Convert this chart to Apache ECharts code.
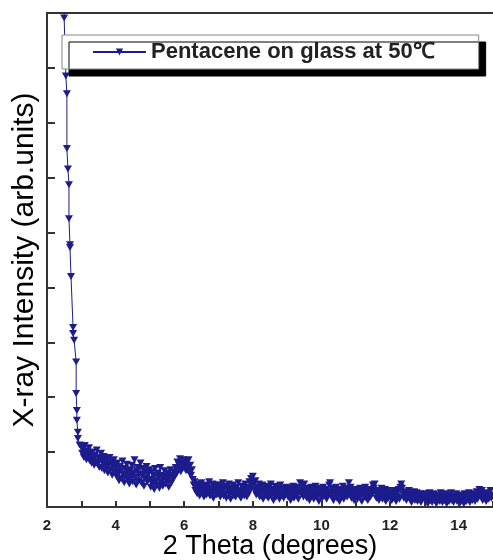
<!DOCTYPE html>
<html>
<head>
<meta charset="utf-8">
<script src="https://cdn.jsdelivr.net/npm/echarts@6/dist/echarts.min.js"></script>
<style>
  html, body { margin: 0; padding: 0; background: #fff; }
  #chart { width: 493px; height: 560px; }
</style>
</head>
<body>
<div id="chart"></div>
<script>
// 样品名称
const seriesName = 'Pentacene on glass at 50℃';

// 低角度陡峭部分 (2θ, 强度)
const steepTheta = [2.47, 2.50, 2.55, 2.58, 2.58, 2.61, 2.64, 2.64, 2.67, 2.67, 2.70, 2.76, 2.76, 2.79, 2.85, 2.85, 2.87, 2.87, 2.90, 2.90, 2.95];
const steepCounts = [9.8, 8.91, 7.85, 7.53, 6.53, 6.16, 5.87, 5.25, 4.78, 4.73, 4.20, 3.27, 3.16, 3.04, 2.64, 2.07, 1.76, 1.58, 1.36, 1.25, 1.13];

// 扫描部分: 从 3.000 开始, 步长 0.025
const scanStart = 3.0;
const scanStep = 0.025;
const scanCounts = [
  // 3.000 - 3.975
  1.10, 0.98, 1.05, 0.90, 1.12, 0.95, 0.86, 1.02, 0.92, 1.08, 0.84, 0.96, 0.80, 1.00, 0.88, 0.76, 0.94, 0.82, 1.04, 0.78,
  0.90, 0.72, 0.86, 0.98, 0.70, 0.84, 0.92, 0.66, 0.80, 0.74, 0.88, 0.62, 0.78, 0.90, 0.68, 0.82, 0.58, 0.76, 0.86, 0.64,
  // 4.000 - 4.975
  0.72, 0.56, 0.80, 0.62, 0.48, 0.74, 0.66, 0.52, 0.84, 0.60, 0.44, 0.70, 0.58, 0.78, 0.50, 0.64, 0.42, 0.68, 0.56, 0.76,
  0.46, 0.62, 0.86, 0.54, 0.40, 0.66, 0.72, 0.48, 0.60, 0.80, 0.44, 0.58, 0.70, 0.38, 0.64, 0.52, 0.74, 0.46, 0.60, 0.68,
  // 5.000 - 5.975
  0.50, 0.36, 0.64, 0.44, 0.58, 0.32, 0.70, 0.48, 0.40, 0.62, 0.54, 0.34, 0.72, 0.46, 0.58, 0.38, 0.52, 0.66, 0.42, 0.56,
  0.48, 0.62, 0.36, 0.54, 0.68, 0.44, 0.58, 0.50, 0.64, 0.56, 0.72, 0.60, 0.82, 0.68, 0.76, 0.88, 0.64, 0.80, 0.70, 0.86,
  // 6.000 - 6.975
  0.74, 0.84, 0.66, 0.80, 0.70, 0.86, 0.62, 0.76, 0.58, 0.68, 0.50, 0.40, 0.46, 0.30, 0.38, 0.24, 0.42, 0.32, 0.20, 0.36,
  0.44, 0.26, 0.34, 0.18, 0.40, 0.30, 0.22, 0.38, 0.28, 0.46, 0.20, 0.34, 0.24, 0.42, 0.16, 0.32, 0.28, 0.40, 0.22, 0.36,
  // 7.000 - 7.975
  0.26, 0.40, 0.18, 0.34, 0.28, 0.44, 0.20, 0.36, 0.24, 0.16, 0.38, 0.30, 0.42, 0.22, 0.14, 0.34, 0.26, 0.40, 0.20, 0.32,
  0.18, 0.36, 0.28, 0.44, 0.22, 0.30, 0.16, 0.38, 0.26, 0.34, 0.20, 0.42, 0.28, 0.18, 0.36, 0.24, 0.46, 0.32, 0.52, 0.40,
  // 8.000 - 8.975
  0.56, 0.44, 0.30, 0.48, 0.22, 0.36, 0.26, 0.42, 0.18, 0.34, 0.28, 0.40, 0.14, 0.32, 0.24, 0.38, 0.20, 0.30, 0.16, 0.36,
  0.26, 0.42, 0.22, 0.32, 0.12, 0.28, 0.38, 0.18, 0.34, 0.24, 0.30, 0.14, 0.40, 0.26, 0.20, 0.34, 0.16, 0.30, 0.24, 0.36,
  // 9.000 - 9.975
  0.28, 0.18, 0.34, 0.24, 0.12, 0.30, 0.22, 0.38, 0.16, 0.32, 0.26, 0.20, 0.36, 0.14, 0.28, 0.44, 0.24, 0.40, 0.30, 0.18,
  0.42, 0.26, 0.34, 0.16, 0.30, 0.22, 0.12, 0.28, 0.36, 0.20, 0.32, 0.14, 0.26, 0.38, 0.18, 0.24, 0.34, 0.10, 0.28, 0.22,
  // 10.000 - 10.975
  0.30, 0.16, 0.36, 0.24, 0.20, 0.32, 0.14, 0.28, 0.22, 0.40, 0.44, 0.26, 0.18, 0.34, 0.12, 0.28, 0.22, 0.36, 0.16, 0.30,
  0.24, 0.10, 0.32, 0.20, 0.26, 0.38, 0.14, 0.30, 0.22, 0.34, 0.18, 0.28, 0.44, 0.24, 0.36, 0.16, 0.30, 0.20, 0.12, 0.26,
  // 11.000 - 11.975
  0.22, 0.32, 0.14, 0.28, 0.18, 0.34, 0.24, 0.10, 0.30, 0.20, 0.26, 0.36, 0.16, 0.28, 0.12, 0.32, 0.22, 0.18, 0.30, 0.24,
  0.40, 0.34, 0.42, 0.26, 0.16, 0.30, 0.20, 0.12, 0.28, 0.22, 0.34, 0.14, 0.26, 0.18, 0.32, 0.10, 0.24, 0.30, 0.16, 0.22,
  // 12.000 - 12.975
  0.20, 0.28, 0.12, 0.24, 0.16, 0.30, 0.22, 0.10, 0.26, 0.18, 0.32, 0.14, 0.36, 0.42, 0.34, 0.24, 0.16, 0.28, 0.20, 0.12,
  0.26, 0.18, 0.30, 0.14, 0.22, 0.08, 0.24, 0.18, 0.28, 0.12, 0.20, 0.26, 0.10, 0.22, 0.16, 0.24, 0.08, 0.20, 0.14, 0.18,
  // 13.000 - 13.975
  0.16, 0.24, 0.10, 0.20, 0.06, 0.18, 0.26, 0.12, 0.22, 0.08, 0.16, 0.24, 0.12, 0.20, 0.06, 0.18, 0.14, 0.22, 0.10, 0.26,
  0.16, 0.08, 0.20, 0.12, 0.24, 0.14, 0.06, 0.18, 0.22, 0.10, 0.16, 0.26, 0.12, 0.20, 0.08, 0.18, 0.14, 0.24, 0.10, 0.16,
  // 14.000 - 14.975
  0.12, 0.20, 0.08, 0.22, 0.14, 0.18, 0.06, 0.24, 0.16, 0.10, 0.20, 0.14, 0.26, 0.08, 0.18, 0.22, 0.12, 0.24, 0.16, 0.10,
  0.20, 0.28, 0.14, 0.22, 0.32, 0.26, 0.18, 0.30, 0.12, 0.24, 0.16, 0.20, 0.10, 0.26, 0.18, 0.14, 0.22, 0.30, 0.16, 0.20
];

const lineColor = '#1c1c8c';
const fontFamily = 'Liberation Sans, Arial, sans-serif';

// 组合数据点
const points = steepTheta.map((t, i) => [t, steepCounts[i]]);
scanCounts.forEach((v, i) => {
  points.push([+(scanStart + i * scanStep).toFixed(3), v]);
});

const chart = echarts.init(document.getElementById('chart'), null, { renderer: 'canvas' });

chart.setOption({
  animation: false,
  backgroundColor: '#fff',
  grid: { left: 47, top: 13, right: 0, bottom: 53, outerBoundsMode: 'none', containLabel: false },
  legend: {
    left: 62,
    top: 35,
    padding: [6, 44, 6, 30],
    backgroundColor: '#fff',
    borderColor: '#888',
    borderWidth: 1,
    shadowColor: '#000',
    shadowBlur: 0,
    shadowOffsetX: 7,
    shadowOffsetY: 7,
    itemWidth: 53,
    itemHeight: 9,
    itemGap: 8,
    textStyle: { fontFamily, fontSize: 22, fontWeight: 'bold', color: '#222' },
    data: [seriesName]
  },
  xAxis: [{
    type: 'value',
    min: 2,
    max: 15,
    interval: 2,
    name: '2 Theta (degrees)',
    nameLocation: 'middle',
    nameGap: 26,
    nameMoveOverlap: false,
    nameTextStyle: { fontFamily, fontSize: 27, color: '#000' },
    axisLine: { lineStyle: { color: '#333', width: 2 } },
    axisTick: { inside: true, length: 6, lineStyle: { color: '#333', width: 2 } },
    minorTick: { show: true, splitNumber: 2, length: 6, lineStyle: { color: '#333', width: 2 } },
    axisLabel: { fontFamily, fontSize: 15, fontWeight: 'bold', color: '#222', margin: 11, showMaxLabel: false },
    splitLine: { show: false }
  }, {
    type: 'value',
    position: 'top',
    min: 2,
    max: 15,
    axisLine: { lineStyle: { color: '#333', width: 2 } },
    axisTick: { show: false },
    axisLabel: { show: false },
    splitLine: { show: false }
  }],
  yAxis: {
    type: 'value',
    min: 0,
    max: 9,
    interval: 1,
    name: 'X-ray Intensity (arb.units)',
    nameLocation: 'middle',
    nameGap: 7,
    nameTextStyle: { fontFamily, fontSize: 30, color: '#000' },
    axisLine: { show: true, lineStyle: { color: '#333', width: 2 } },
    axisTick: { show: true, inside: true, length: 8, lineStyle: { color: '#333', width: 2 } },
    axisLabel: { show: false },
    splitLine: { show: false }
  },
  series: [{
    name: seriesName,
    type: 'line',
    xAxisIndex: 0,
    data: points,
    symbol: 'triangle',
    symbolRotate: 180,
    symbolSize: [8, 7],
    showAllSymbol: true,
    clip: true,
    lineStyle: { color: lineColor, width: 1 },
    itemStyle: { color: lineColor, borderWidth: 0 }
  }]
});
</script>
</body>
</html>
